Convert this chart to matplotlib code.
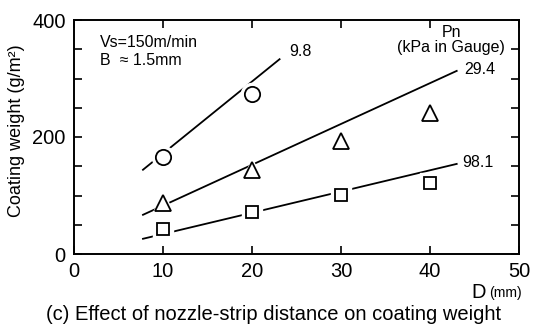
import matplotlib
matplotlib.use("Agg")
import matplotlib.pyplot as plt
from matplotlib.ticker import MultipleLocator

plt.rcParams['font.family'] = ['Liberation Sans', 'DejaVu Sans']

# measured points, D in mm, coating weight in g/m2
d_circle = [10, 20]
w_circle = [166, 273]
d_tri = [10, 20, 30, 40]
w_tri = [87, 144, 193, 241]
d_sq = [10, 20, 30, 40]
w_sq = [43, 72, 101, 121]

# trend lines (start/end)
line_x = [7.75, 23.1]
line_98 = [144, 333]
line_x2 = [7.75, 43.0]
line_294 = [67, 313]
line_981 = [26, 154]

pn_labels = ['9.8', '29.4', '98.1']
pn_label_pos = [(24.2, 347), (43.9, 316), (43.6, 157)]

fig = plt.figure(figsize=(5.34, 3.29), dpi=100)
ax = fig.add_axes([74 / 534, 1 - 254 / 329, 445 / 534, 234 / 329])

lw = 1.3
ax.plot(line_x, line_98, color='black', lw=lw, zorder=1)
ax.plot(line_x2, line_294, color='black', lw=lw, zorder=1)
ax.plot(line_x2, line_981, color='black', lw=lw, zorder=1)

# white halo so the lines break around the symbols
for xs, ys, m, s in [(d_circle, w_circle, 'o', 11), (d_tri, w_tri, '^', 11.5), (d_sq, w_sq, 's', 9)]:
    ax.plot(xs, ys, ls='none', marker=m, ms=s + 5, mfc='white', mec='white', zorder=2)
    ax.plot(xs, ys, ls='none', marker=m, ms=s, mfc='white', mec='black', mew=1.3, zorder=3)

for lab, (x, y) in zip(pn_labels, pn_label_pos):
    ax.text(x, y, lab, fontsize=11.5, ha='left', va='center')

ax.text(42.4, 366, 'Pn\n(kPa in Gauge)', fontsize=11.5, ha='center', va='center', linespacing=1.05)
ax.text(2.9, 362, 'Vs=150m/min', fontsize=11.5, ha='left', va='center')
ax.text(2.9, 330, 'B  \u2248 1.5mm', fontsize=11.5, ha='left', va='center')

ax.set_xlim(0, 50)
ax.set_ylim(0, 400)
ax.xaxis.set_major_locator(MultipleLocator(10))
ax.yaxis.set_major_locator(MultipleLocator(200))
ax.yaxis.set_minor_locator(MultipleLocator(50))
ax.tick_params(which='both', direction='in', top=True, right=True, length=6, width=1.2,
               labelsize=14.5, pad=6)
for sp in ax.spines.values():
    sp.set_linewidth(1.4)

fig.text(17 / 534, 1 - 131 / 329, 'Coating weight (g/m\u00b2)', rotation=90, fontsize=13,
         ha='center', va='center')
fig.text(486 / 534, 1 - 292 / 329, 'D', fontsize=14.5, ha='right', va='center')
fig.text(522 / 534, 1 - 293 / 329, '(mm)', fontsize=10, ha='right', va='center')
fig.text(274 / 534, 1 - 314 / 329, '(c) Effect of nozzle-strip distance on coating weight',
         fontsize=14.5, ha='center', va='center')

fig.savefig('out.png', dpi=100)
